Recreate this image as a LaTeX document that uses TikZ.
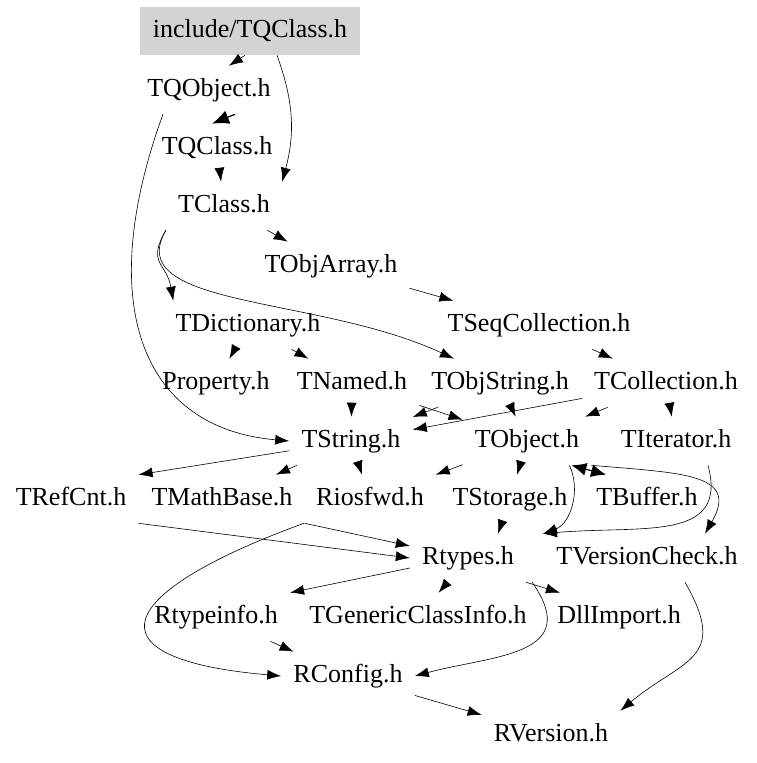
\documentclass[tikz,border=0pt]{standalone}
\usepackage{fontspec}
\setmainfont{Liberation Serif}
\usetikzlibrary{arrows.meta}
\definecolor{boxgray}{RGB}{211,211,211}

\begin{document}
\begin{tikzpicture}[x=1pt,y=1pt,>={Latex[length=14pt,width=10pt]},line width=0.6pt,
  hdr/.style={font=\fontsize{26}{30}\selectfont,inner xsep=12pt,inner ysep=0pt,
    text height=18pt,text depth=6pt,minimum height=48pt},
  incl/.style={hdr,fill=boxgray,minimum width=220pt},
  heavy/.style={line width=1.2pt}]
\useasboundingbox (0,0) rectangle (757,-763);

\node[incl](inc) at (250,-31) {include/TQClass.h};
\node[hdr](TQObject) at (209,-90) {TQObject.h};
\node[hdr](TQClass) at (217,-148) {TQClass.h};
\node[hdr](TClass) at (224,-206) {TClass.h};
\node[hdr](TObjArray) at (331,-266) {TObjArray.h};
\node[hdr](TDictionary) at (248,-325) {TDictionary.h};
\node[hdr](TSeqCollection) at (539,-325) {TSeqCollection.h};
\node[hdr](Property) at (216,-383) {Property.h};
\node[hdr](TNamed) at (352,-383) {TNamed.h};
\node[hdr](TObjString) at (500,-383) {TObjString.h};
\node[hdr](TCollection) at (666,-383) {TCollection.h};
\node[hdr](TString) at (351,-441) {TString.h};
\node[hdr](TObject) at (527,-441) {TObject.h};
\node[hdr](TIterator) at (676,-441) {TIterator.h};
\node[hdr](TRefCnt) at (71,-499) {TRefCnt.h};
\node[hdr](TMathBase) at (222,-499) {TMathBase.h};
\node[hdr](Riosfwd) at (370,-499) {Riosfwd.h};
\node[hdr](TStorage) at (510,-499) {TStorage.h};
\node[hdr](TBuffer) at (647,-499) {TBuffer.h};
\node[hdr](Rtypes) at (468,-558) {Rtypes.h};
\node[hdr](TVersionCheck) at (647,-558) {TVersionCheck.h};
\node[hdr](Rtypeinfo) at (216,-617) {Rtypeinfo.h};
\node[hdr](TGenericClassInfo) at (418,-617) {TGenericClassInfo.h};
\node[hdr](DllImport) at (619,-617) {DllImport.h};
\node[hdr](RConfig) at (348,-676) {RConfig.h};
\node[hdr](RVersion) at (551,-735) {RVersion.h};

\draw[->] ([xshift=-5pt]inc.south) -- ([xshift=20pt]TQObject.north);
\draw[->] ([xshift=27pt]inc.south) to [out=-70,in=75] (TClass.north east);
\draw[heavy,-{Latex[length=17pt,width=14pt]}] ([xshift=26pt]TQObject.south) -- ([xshift=-5pt]TQClass.north);
\draw[->] ([xshift=28pt]TQObject.south west) to [out=-110,in=175,out distance=200pt,in distance=150pt] (TString.west);
\draw[->] (TQClass) -- (TClass);

\draw[->] (TClass) -- (TObjArray);
\draw[->] (TClass.south west) to [out=-120,in=100,looseness=1.4] ([xshift=10pt]TDictionary.north west);
\draw[->] (TClass.south west) to [out=-120,in=155,out distance=90pt,in distance=150pt] ([xshift=35pt]TObjString.north west);
\draw[->] (TObjArray) -- (TSeqCollection);

\draw[->] (TDictionary) -- (Property);
\draw[->] (TDictionary) -- (TNamed);
\draw[->] (TSeqCollection) -- (TCollection);

\draw[->] (TNamed) -- (TString);
\draw[->] (TNamed) -- (TObject);
\draw[->] (TObjString) -- (TString);
\draw[->] (TObjString) -- (TObject);
\draw[->] (TCollection) -- (TString);
\draw[->] (TCollection) -- (TObject);
\draw[->] (TCollection) -- (TIterator);

\draw[->] (TString) -- (TRefCnt.north east);
\draw[->] (TString) -- (TMathBase);
\draw[->] (TString) -- (Riosfwd);
\draw[->] (TObject) -- (Riosfwd);
\draw[->] (TObject) -- (TStorage);
\draw[heavy,{Latex[length=15pt,width=13pt]}-{Latex[length=15pt,width=13pt]}] ([xshift=-20pt]TObject.south east) -- ([xshift=22pt]TBuffer.north west);
\draw[->] ([xshift=-22pt]TObject.south east) to [out=-65,in=20] ([xshift=75pt]Rtypes.north);
\draw[->] (TObject.south east) to [out=-5,in=60,out distance=90pt,in distance=70pt] ([xshift=58pt]TVersionCheck.north);
\draw[->] ([xshift=32pt]TIterator.south) to [out=-75,in=5,out distance=80pt,in distance=100pt] ([xshift=75pt]Rtypes.north);

\draw[->] (TStorage) -- ([xshift=30pt]Rtypes.north);
\draw[->] (TRefCnt.south east) -- (Rtypes.west);
\draw[->] (TMathBase.south east) -- ([yshift=12pt]Rtypes.west);
\draw[->] (Riosfwd.south west) to [out=-160,in=175,out distance=200pt,in distance=200pt] (RConfig.west);

\draw[->] ([yshift=-10pt]Rtypes.west) -- (Rtypeinfo.north east);
\draw[->] (Rtypes) -- (TGenericClassInfo);
\draw[->] (Rtypes.south east) -- ([xshift=15pt]DllImport.north west);
\draw[->] ([xshift=6pt]Rtypes.south east) to [out=-55,in=15,out distance=90pt,in distance=80pt] (RConfig.east);
\draw[->] (Rtypeinfo) -- (RConfig);
\draw[->] (RConfig) -- (RVersion);
\draw[->] ([xshift=38pt]TVersionCheck.south) to [out=-60,in=40,out distance=90pt,in distance=80pt] (RVersion.north east);
\end{tikzpicture}
\end{document}
